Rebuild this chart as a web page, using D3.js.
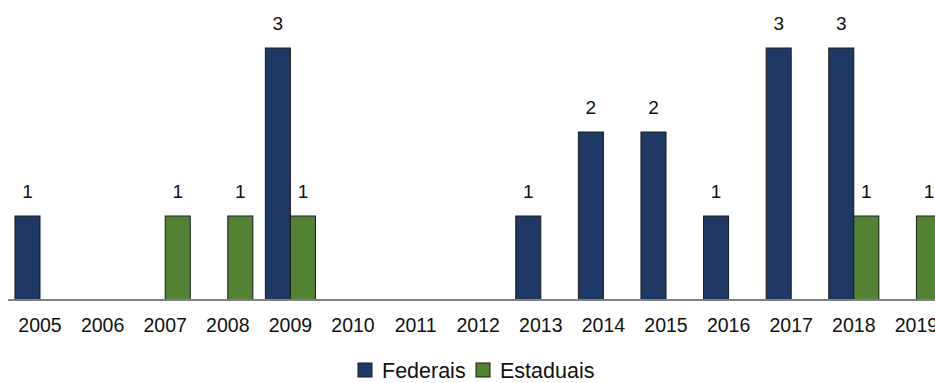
<!DOCTYPE html>
<html>
<head>
<meta charset="utf-8">
<script src="https://cdn.jsdelivr.net/npm/d3@7"></script>
<style>
  body { margin: 0; background: #fff; }
  svg { display: block; font-family: "Liberation Sans", Arial, sans-serif; }
</style>
</head>
<body>
<svg id="chart" width="935" height="383"></svg>
<script>
// dados
const years = ["2005", "2006", "2007", "2008", "2009", "2010", "2011", "2012",
  "2013", "2014", "2015", "2016", "2017", "2018", "2019"];
const federais = [1, 0, 0, 0, 3, 0, 0, 0, 1, 2, 2, 1, 3, 3, 0];
const estaduais = [0, 0, 1, 1, 1, 0, 0, 0, 0, 0, 0, 0, 0, 1, 1];
const seriesNames = ["Federais", "Estaduais"];
const colors = ["#1f3864", "#548235"];

const svg = d3.select("#chart");

// the picture is cut off on the right, so the band range runs past 935
const x = d3.scaleBand().domain(years).range([8.7, 947.7])
  .paddingInner(0.2).paddingOuter(0.1);
const x1 = d3.scaleBand().domain(seriesNames).range([0, x.bandwidth()]);
const y = d3.scaleLinear().domain([0, 3]).range([300, 48]);

const rows = years.map((yr, i) => ({
  year: yr,
  values: [
    { key: "Federais", v: federais[i] },
    { key: "Estaduais", v: estaduais[i] }
  ]
}));

// barras
const groups = svg.append("g").selectAll("g.year")
  .data(rows).enter().append("g")
  .attr("class", "year")
  .attr("transform", d => `translate(${x(d.year)},0)`);

groups.selectAll("rect")
  .data(d => d.values.filter(e => e.v > 0))
  .enter().append("rect")
  .attr("x", d => x1(d.key))
  .attr("y", d => y(d.v))
  .attr("width", x1.bandwidth())
  .attr("height", d => y(0) - y(d.v))
  .attr("fill", d => colors[seriesNames.indexOf(d.key)])
  .attr("stroke", "#1a1a1a")
  .attr("stroke-width", 1);

// rótulos de valor
groups.selectAll("text.val")
  .data(d => d.values.filter(e => e.v > 0))
  .enter().append("text")
  .attr("class", "val")
  .attr("x", d => x1(d.key) + x1.bandwidth() / 2)
  .attr("y", d => y(d.v) - 18)
  .attr("text-anchor", "middle")
  .style("font-size", "19px")
  .style("fill", "#111")
  .text(d => d.v);

// eixo x
const axis = svg.append("g")
  .attr("transform", `translate(0,${y(0)})`)
  .call(d3.axisBottom(x).tickSize(0).tickPadding(18));
axis.select(".domain").attr("stroke", "#808080").attr("stroke-width", 2)
  .attr("d", "M8,0H935");
axis.selectAll("text")
  .style("font-size", "19.5px")
  .style("font-family", "'Liberation Sans', Arial, sans-serif")
  .attr("fill", "#111");

// legenda
const legend = svg.append("g").attr("transform", "translate(358,363)");
const legendX = [0, 118];
seriesNames.forEach((name, i) => {
  const g = legend.append("g").attr("transform", `translate(${legendX[i]},0)`);
  g.append("rect").attr("width", 14).attr("height", 14)
    .attr("fill", colors[i]).attr("stroke", "#1a1a1a").attr("stroke-width", 1);
  g.append("text").attr("x", 24).attr("y", 14.5)
    .style("font-size", "21.5px").style("fill", "#111")
    .text(name);
});
</script>
</body>
</html>
